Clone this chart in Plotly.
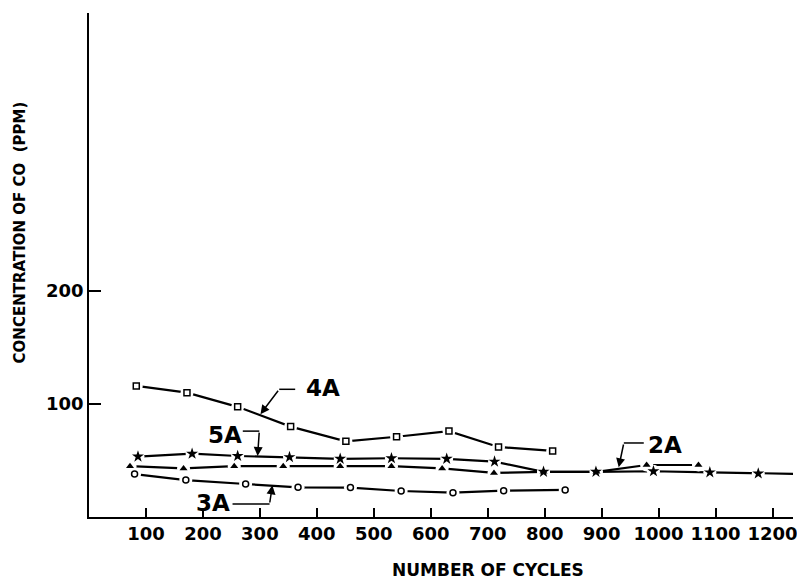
import plotly.graph_objects as go

# ---- data ----
cycles_4A = [83, 172, 261, 354, 451, 540, 632, 719, 814]
co_4A = [116, 110, 97.5, 80, 67, 71, 76, 62, 58.5]

cycles_5A = [86, 181, 261, 352, 441, 531, 628, 712, 798, 890, 991, 1090, 1175, 1265]
co_5A = [53.5, 56, 54, 53, 51.5, 52, 51.5, 49, 40, 40, 40.5, 39.5, 38.5, 38]

cycles_2A = [72, 166, 255, 341, 441, 531, 620, 711, 798, 891, 979, 1070]
co_2A = [45, 43, 45, 45, 45, 45, 43, 39, 40, 40, 46, 46]

cycles_3A = [80, 170, 275, 367, 459, 548, 639, 728, 836]
co_3A = [38, 32.7, 29.2, 26.3, 26, 23, 21.5, 23.3, 24]

x_ticks = [100, 200, 300, 400, 500, 600, 700, 800, 900, 1000, 1100, 1200]
y_ticks = [100, 200]

FONT = dict(family="DejaVu Sans", color="black", weight="bold")

series = [
    (cycles_4A, co_4A, dict(symbol="square-open", size=6, color="black", line=dict(width=1.5))),
    (cycles_5A, co_5A, dict(symbol="star", size=9, color="black")),
    (cycles_2A, co_2A, dict(symbol="triangle-up", size=7, color="black")),
    (cycles_3A, co_3A, dict(symbol="circle-open", size=6, color="black", line=dict(width=1.5))),
]

fig = go.Figure()
for xs, ys, mk in series:
    fig.add_trace(go.Scatter(x=xs, y=ys, mode="lines",
                             line=dict(color="black", width=2.2), hoverinfo="skip"))
for xs, ys, mk in series:
    fig.add_trace(go.Scatter(x=xs, y=ys, mode="markers",
                             marker=dict(symbol="circle", size=13, color="white"), hoverinfo="skip"))
for xs, ys, mk in series:
    fig.add_trace(go.Scatter(x=xs, y=ys, mode="markers", marker=mk))

labels = [
    ("4A", (410, 114), (362, 113), (334, 113), (301, 91)),
    ("5A", (238, 72.6), (270, 76), (299, 76), (296, 54)),
    ("3A", (217, 12.4), (252, 11.5), (317, 11.5), (322, 28)),
    ("2A", (1011, 63.7), (974, 65.5), (939, 65.5), (930, 44)),
]
for txt, tp, s, c, tip in labels:
    fig.add_annotation(x=tp[0], y=tp[1], text=txt, showarrow=False,
                       font=dict(FONT, size=23), xref="x", yref="y")
    fig.add_shape(type="line", x0=s[0], y0=s[1], x1=c[0], y1=c[1],
                  line=dict(color="black", width=1.5), xref="x", yref="y")
    fig.add_annotation(x=tip[0], y=tip[1], ax=c[0], ay=c[1], axref="x", ayref="y",
                       xref="x", yref="y", text="", showarrow=True,
                       arrowhead=2, arrowsize=1.2, arrowwidth=1.5, arrowcolor="black")

W, H = 797, 581
l, r, t, b = 89, 0, 13, 64
pw, ph = W - l - r, H - t - b

fig.add_annotation(x=(490 - l) / pw, y=(H - b - 570) / ph, xref="paper", yref="paper",
                   text="NUMBER OF CYCLES", showarrow=False, font=dict(FONT, size=17),
                   xanchor="center", yanchor="middle")
fig.add_annotation(x=(20 - l) / pw, y=(H - b - 232) / ph, xref="paper", yref="paper",
                   text="CONCENTRATION OF CO  (PPM)", showarrow=False, textangle=-90,
                   font=dict(FONT, size=15), xanchor="center", yanchor="middle")

fig.update_layout(
    width=W, height=H,
    margin=dict(l=l, r=r, t=t, b=b),
    paper_bgcolor="white", plot_bgcolor="white",
    showlegend=False,
    font=dict(FONT, size=18),
    xaxis=dict(range=[0, 1236], tickvals=x_ticks,
               ticks="inside", ticklen=9, tickwidth=1.5, ticklabeloverflow="allow",
               tickcolor="black", showline=True, linecolor="black", linewidth=1.5,
               showgrid=False, zeroline=False, tickfont=dict(FONT, size=18)),
    yaxis=dict(range=[0, 446], tickvals=y_ticks,
               ticks="inside", ticklen=12, tickwidth=1.5,
               tickcolor="black", showline=True, linecolor="black", linewidth=1.5,
               showgrid=False, zeroline=False, tickfont=dict(FONT, size=18)),
)

fig.write_html("out.html")
